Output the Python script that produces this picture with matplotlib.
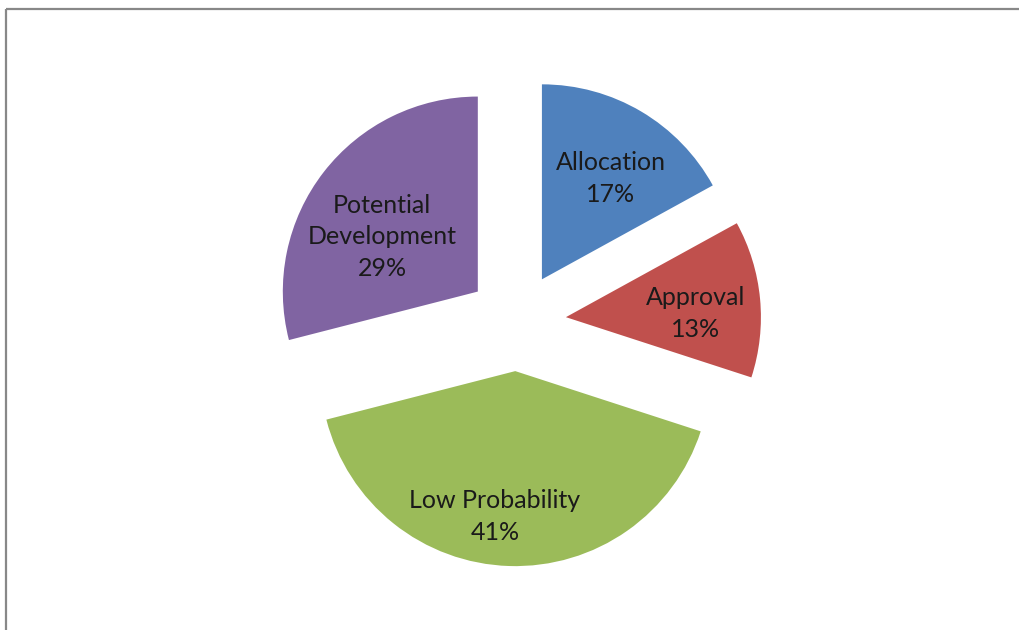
import matplotlib
matplotlib.use("Agg")
import matplotlib.pyplot as plt
from matplotlib.lines import Line2D

# ---- data ----
categories = ["Allocation", "Approval", "Low Probability", "Potential\nDevelopment"]
shares = [17, 13, 41, 29]
colors = ["#4F81BD", "#C0504D", "#9BBB59", "#8064A2"]

# ---- layout ----
W, H = 1019, 630
cx_px, cy_px, r_px = 516.8, 321.8, 195.0
explode_frac = 0.253
label_pos = [(0.483, 0.733), (0.917, 0.041), (-0.112, -1.0), (-0.691, 0.435)]

fig = plt.figure(figsize=(W / 100, H / 100), dpi=100)
fig.patch.set_facecolor("white")
ax = fig.add_axes([0, 0, 1, 1])

wedges, _ = ax.pie(shares, colors=colors, startangle=90, counterclock=False,
                   explode=[explode_frac] * len(shares), radius=1.0,
                   wedgeprops=dict(linewidth=0))

ax.set_aspect("auto")
ax.set_xlim(-cx_px / r_px, (W - cx_px) / r_px)
ax.set_ylim(-(H - cy_px) / r_px, cy_px / r_px)
ax.axis("off")

for cat, val, (lx, ly) in zip(categories, shares, label_pos):
    ax.text(lx, ly, f"{cat}\n{val}%", ha="center", va="center",
            fontsize=18, family=["Lato", "DejaVu Sans"], color="#1a1a1a",
            linespacing=1.47)

# chart frame (top and left edges visible)
fig.add_artist(Line2D([6 / W, 1.0], [1 - 9.3 / H, 1 - 9.3 / H],
                      transform=fig.transFigure, color="#888888", lw=1.6,
                      solid_capstyle="butt"))
fig.add_artist(Line2D([6.3 / W, 6.3 / W], [0.0, 1 - 8.5 / H],
                      transform=fig.transFigure, color="#888888", lw=1.6,
                      solid_capstyle="butt"))

fig.savefig("out.png", dpi=100, facecolor="white")
